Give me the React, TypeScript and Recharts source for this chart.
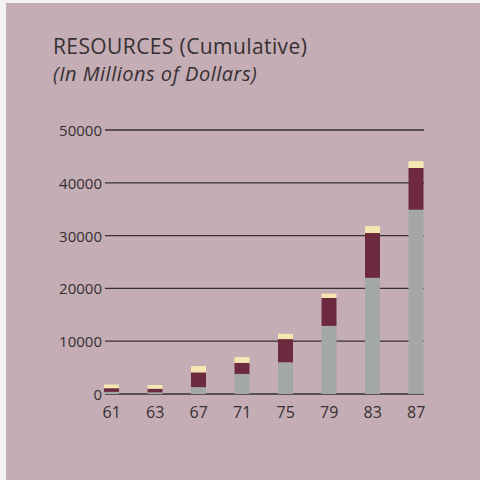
import { BarChart, Bar, XAxis, YAxis, CartesianGrid } from "recharts"

// Cumulative resources by fiscal year, millions of dollars
const years = ["61", "63", "67", "71", "75", "79", "83", "87"]
const baseFunds = [400, 300, 1300, 3800, 6000, 12900, 22000, 34900]
const addedFunds = [700, 700, 2800, 2100, 4400, 5300, 8500, 7900]
const otherFunds = [700, 700, 1200, 1100, 1000, 800, 1300, 1300]
const yTicks = [0, 10000, 20000, 30000, 40000, 50000]

const data = years.map((year, i) => ({
  year,
  base: baseFunds[i],
  added: addedFunds[i],
  other: otherFunds[i],
}))

const BG = "#c4adb4"
const INK = "#363032"
const FONT = "'Open Sans', Lato, sans-serif"

const GridLine = (props: any) => {
  const { x1, x2, y1, y2 } = props
  return <line x1={x1 + 15} x2={x2 - 14} y1={y1} y2={y2} stroke={INK} strokeWidth={1.3} />
}

const YTick = ({ x, y, payload }: any) => (
  <text x={x + 20} y={y} textAnchor="end" dominantBaseline="central" fill={INK} fontSize={15} fontFamily={FONT}>
    {payload.value}
  </text>
)

const titleStyle = {
  position: "absolute" as const,
  left: 53,
  fontFamily: FONT,
  color: INK,
  lineHeight: "22px",
  whiteSpace: "nowrap" as const,
}

export default function App() {
  return (
    <div style={{ position: "fixed", left: 0, top: 0, width: 480, height: 480, background: "#f4f1f2" }}>
      <div style={{ position: "absolute", left: 6, top: 3, width: 474, height: 477, background: BG }} />
      <div style={{ ...titleStyle, top: 35, fontSize: 21, letterSpacing: 0.4 }}>RESOURCES (Cumulative)</div>
      <div style={{ ...titleStyle, top: 63, fontSize: 20, letterSpacing: 0.5, fontStyle: "italic" }}>
        (In Millions of Dollars)
      </div>
      <div style={{ position: "absolute", left: 0, top: 0 }}>
        <BarChart width={480} height={480} data={data} margin={{ top: 130, right: 42, bottom: 56, left: 40 }}>
          <CartesianGrid vertical={false} horizontal={GridLine} />
          <YAxis
            width={50}
            domain={[0, 50000]}
            ticks={yTicks}
            axisLine={false}
            tickLine={false}
            tick={YTick}
            interval={0}
          />
          <XAxis
            dataKey="year"
            axisLine={false}
            tickLine={false}
            tick={{ fill: INK, fontSize: 16, fontFamily: FONT, dy: 5 }}
            interval={0}
          />
          <Bar dataKey="base" stackId="a" fill="#a4a7a7" barSize={15} isAnimationActive={false} />
          <Bar dataKey="added" stackId="a" fill="#6d2a3e" barSize={15} isAnimationActive={false} />
          <Bar dataKey="other" stackId="a" fill="#f6e7b2" barSize={15} isAnimationActive={false} />
        </BarChart>
      </div>
    </div>
  )
}
